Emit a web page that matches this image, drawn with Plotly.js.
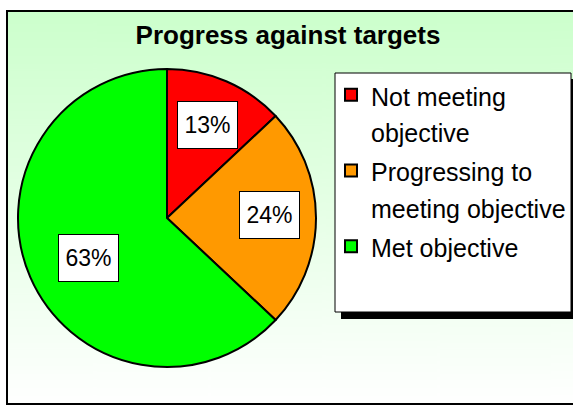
<!DOCTYPE html>
<html>
<head>
<meta charset="utf-8">
<script src="https://cdn.plot.ly/plotly-3.0.1.min.js"></script>
<style>
  html, body { margin: 0; padding: 0; background: #ffffff; }
  #chart { width: 573px; height: 406px; }
</style>
</head>
<body>
<div id="chart"></div>
<script>
// ---- data ----
var categories = ['Not meeting<br>objective', 'Progressing to<br>meeting objective', 'Met objective'];
var values = [13, 24, 63];
var sliceColors = ['#FF0000', '#FF9900', '#00FF00'];
var chartTitle = 'Progress against targets';

// ---- geometry (pixels) ----
var W = 573, H = 406;
var cx = 167, cy = 218, R = 149;
function px(x) { return x / W; }
function py(y) { return 1 - y / H; }

// gradient background image for the chart area
var cv = document.createElement('canvas');
cv.width = 10; cv.height = 400;
var ctx = cv.getContext('2d');
var g = ctx.createLinearGradient(0, 0, 0, 400);
g.addColorStop(0, '#CCFFCC');
g.addColorStop(1, '#FFFFFF');
ctx.fillStyle = g;
ctx.fillRect(0, 0, 10, 400);
var bgURL = cv.toDataURL();

// label annotations placed at the slice mid-angles
var total = values.reduce(function (a, b) { return a + b; }, 0);
var radialFrac = [0.68, 0.685, 0.59];
var angleShift = [0, -1.5, -3.5];
var annotations = [];
var cum = 0;
for (var i = 0; i < values.length; i++) {
  var mid = ((cum + values[i] / 2) / total * 360 + angleShift[i]) * Math.PI / 180;
  cum += values[i];
  var lx = cx + radialFrac[i] * R * Math.sin(mid);
  var ly = cy - radialFrac[i] * R * Math.cos(mid);
  annotations.push({
    xref: 'paper', yref: 'paper',
    x: px(lx), y: py(ly), xanchor: 'center', yanchor: 'middle',
    text: Math.round(values[i] / total * 100) + '%',
    showarrow: false,
    font: { family: 'Liberation Sans, Arial, sans-serif', size: 23, color: '#000000' },
    bgcolor: '#FFFFFF', bordercolor: '#000000', borderwidth: 1,
    width: 59, height: 46, borderpad: 0, align: 'center', valign: 'middle'
  });
}

var legendText = categories.map(function (c) {
  return '<span style="font-size:25px">' + c.split('<br>').join('</span><br><span style="font-size:25px">') + '</span>';
});

var data = [{
  type: 'pie',
  labels: legendText,
  values: values,
  sort: false,
  direction: 'clockwise',
  rotation: 0,
  marker: { colors: sliceColors, line: { color: '#000000', width: 2 } },
  textinfo: 'none',
  hoverinfo: 'label+percent',
  domain: { x: [px(cx - R), px(cx + R)], y: [py(cy + R), py(cy - R)] }
}];

var layout = {
  width: W, height: H,
  margin: { l: 0, r: 0, t: 0, b: 0, autoexpand: false },
  paper_bgcolor: '#FFFFFF',
  title: {
    text: '<b>' + chartTitle + '</b>',
    font: { family: 'Liberation Sans, Arial, sans-serif', size: 26, color: '#000000' },
    x: px(288), xanchor: 'center', y: py(35), yanchor: 'middle', xref: 'paper', yref: 'paper',
    automargin: false
  },
  showlegend: true,
  legend: {
    x: px(331), y: py(70), xanchor: 'left', yanchor: 'top',
    bgcolor: 'rgba(0,0,0,0)', borderwidth: 0,
    font: { family: 'Liberation Sans, Arial, sans-serif', size: 28, color: '#000000' },
    valign: 'top', itemwidth: 30
  },
  images: [{
    source: bgURL, xref: 'paper', yref: 'paper',
    x: px(7), y: py(11), sizex: px(580) - px(7), sizey: py(11) - py(404),
    xanchor: 'left', yanchor: 'top', sizing: 'stretch', layer: 'below'
  }],
  shapes: [
    { type: 'rect', xref: 'paper', yref: 'paper', x0: px(7), x1: px(590), y0: py(404), y1: py(11),
      line: { color: '#000000', width: 2 }, fillcolor: 'rgba(0,0,0,0)', layer: 'below' },
    { type: 'rect', xref: 'paper', yref: 'paper', x0: px(341), x1: px(580), y0: py(319), y1: py(79),
      line: { width: 0 }, fillcolor: '#000000', layer: 'below' },
    { type: 'rect', xref: 'paper', yref: 'paper', x0: px(335), x1: px(571), y0: py(312), y1: py(73),
      line: { color: '#000000', width: 1 }, fillcolor: '#FFFFFF', layer: 'below' }
  ],
  annotations: annotations
};

Plotly.newPlot('chart', data, layout, { displayModeBar: false, staticPlot: true });
</script>
</body>
</html>
